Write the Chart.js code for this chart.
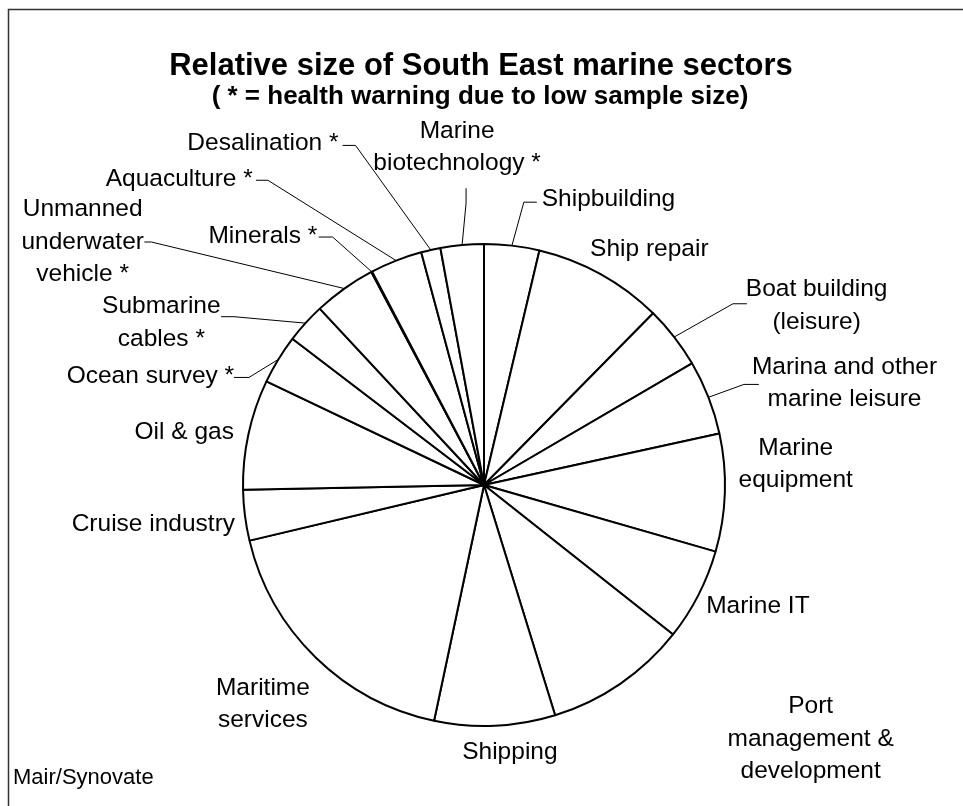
<!DOCTYPE html>
<html>
<head>
<meta charset="utf-8">
<title>Relative size of South East marine sectors</title>
<script src="https://cdn.jsdelivr.net/npm/chart.js@4.4.1/dist/chart.umd.min.js"></script>
<style>
  html, body { margin: 0; padding: 0; background: #fff; }
  canvas { display: block; }
</style>
</head>
<body>
<canvas id="sectorPie" width="963" height="806"></canvas>
<script>
// sectors, clockwise from 12 o'clock
const sectors = [
    'Shipbuilding', 'Ship repair', 'Boat building\n(leisure)',
    'Marina and other\nmarine leisure', 'Marine\nequipment', 'Marine IT',
    'Port\nmanagement &\ndevelopment', 'Shipping', 'Maritime\nservices',
    'Cruise industry', 'Oil & gas', 'Ocean survey *', 'Submarine\ncables *',
    'Unmanned\nunderwater\nvehicle *', 'Minerals *', 'Aquaculture *',
    'Desalination *', 'Marine\nbiotechnology *'
];

// share of the marine sector (%)
const shares = [3.7, 8.7, 4.2, 5.0, 7.9, 6.2, 9.6, 8.1, 18.0, 3.4, 7.4, 3.3, 2.7, 4.2, 0.05, 3.5, 1.3, 2.9];

const chartTitle = 'Relative size of South East marine sectors';
const chartSubtitle = '( * = health warning due to low sample size)';
const sourceNote = 'Mair/Synovate';

// label block centres, relative to the pie centre (for a 242px radius)
const labelSpots = [
    [125, -287], [166, -237], [334, -180], [362, -102], [313, -21], [275, 122],
    [328, 255], [26, 268], [-222, 220], [-332, 39], [-301, -53], [-335, -109],
    [-324, -163], [-403, -244], [-222, -250], [-306, -307], [-222, -343], [-27, -339]
];

// leader line bends (elbow, end) for the labels that sit away from their slice
const leaderBends = [
    [[40, -284], [53, -284]], null, [[250, -182], [264, -182]], [[261, -101], [276, -101]],
    null, null, null, null, null, null, null,
    [[-236, -108], [-251, -108]], [[-251, -169], [-264, -169]], [[-334, -244], [-341, -244]],
    [[-152, -249], [-166, -249]], [[-217, -306], [-229, -306]], [[-129, -341], [-142, -341]],
    [[-18, -283], [-18, -298]]
];

const FONT = "'Liberation Sans', Arial, sans-serif";

// frame, titles, slice labels and leaders
const annotations = {
    id: 'annotations',
    afterDraw(chart) {
        const ctx = chart.ctx;
        const arcs = chart.getDatasetMeta(0).data;
        if (!arcs.length) return;
        const cx = arcs[0].x, cy = arcs[0].y;
        const R = arcs[0].outerRadius;
        const k = R / 242;

        ctx.save();

        // chart frame
        ctx.strokeStyle = '#333';
        ctx.lineWidth = 1.5;
        ctx.beginPath();
        ctx.moveTo(8.5, chart.height);
        ctx.lineTo(8.5, 9.5);
        ctx.lineTo(chart.width, 9.5);
        ctx.stroke();

        // titles
        ctx.fillStyle = '#000';
        ctx.textAlign = 'center';
        ctx.textBaseline = 'alphabetic';
        ctx.font = 'bold 31px ' + FONT;
        ctx.fillText(chartTitle, 481, 75);
        ctx.font = 'bold 26px ' + FONT;
        ctx.fillText(chartSubtitle, 480, 104);

        // source
        ctx.textAlign = 'left';
        ctx.font = '22px ' + FONT;
        ctx.fillText(sourceNote, 13, 784);

        // leaders
        ctx.strokeStyle = '#000';
        ctx.lineWidth = 1;
        arcs.forEach((arc, i) => {
            const bend = leaderBends[i];
            if (!bend) return;
            const mid = (arc.startAngle + arc.endAngle) / 2;
            ctx.beginPath();
            ctx.moveTo(cx + Math.cos(mid) * R, cy + Math.sin(mid) * R);
            bend.forEach(p => ctx.lineTo(cx + p[0] * k, cy + p[1] * k));
            ctx.stroke();
        });

        // labels
        ctx.textAlign = 'center';
        ctx.textBaseline = 'middle';
        ctx.font = '24.5px ' + FONT;
        const lineH = 32.5;
        sectors.forEach((name, i) => {
            const lines = name.split('\n');
            const x = cx + labelSpots[i][0] * k;
            const y0 = cy + labelSpots[i][1] * k - (lines.length - 1) * lineH / 2;
            lines.forEach((ln, j) => ctx.fillText(ln, x, y0 + j * lineH));
        });

        ctx.restore();
    }
};

const ctx = document.getElementById('sectorPie').getContext('2d');
new Chart(ctx, {
    type: 'pie',
    data: {
        labels: sectors,
        datasets: [{
            data: shares,
            backgroundColor: '#fff',
            borderColor: '#000',
            borderWidth: 2
        }]
    },
    options: {
        responsive: false,
        animation: false,
        layout: {
            padding: { top: 243, bottom: 79, left: 242, right: 237 }
        },
        plugins: {
            legend: { display: false },
            tooltip: { enabled: false }
        }
    },
    plugins: [annotations]
});
</script>
</body>
</html>
